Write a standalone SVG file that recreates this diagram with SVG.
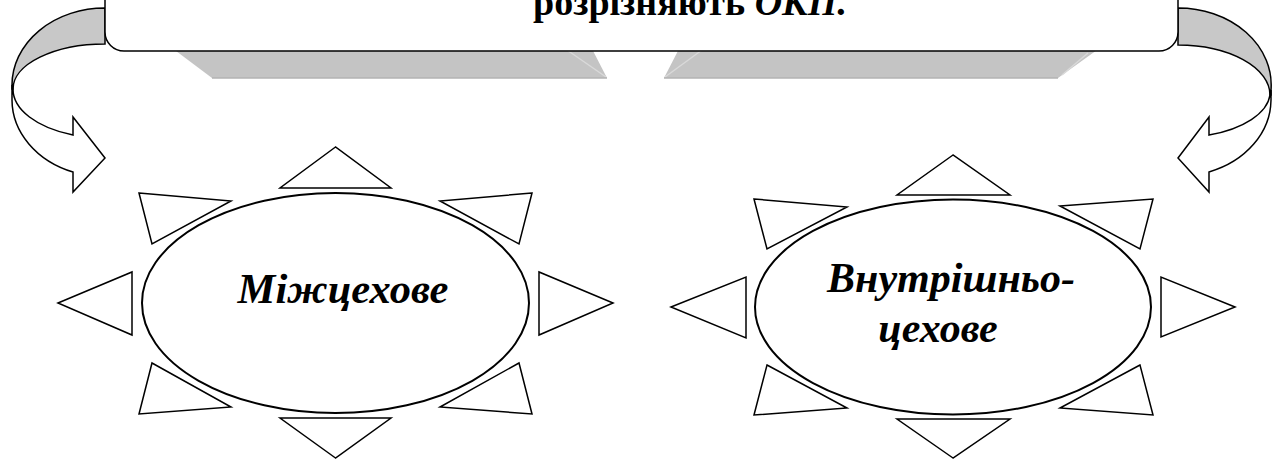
<svg xmlns="http://www.w3.org/2000/svg" width="1279" height="460" viewBox="0 0 1279 460">
<defs>
<style>
.ln{fill:#fff;stroke:#000;stroke-width:1.5;stroke-linejoin:miter}
.back{fill:#c8c8c8;stroke:#000;stroke-width:1.5}
.shd{fill:#c4c4c4;stroke:none}
.hl{stroke:#d9d9d9;stroke-width:1.5;fill:none}
.bt{stroke:#b3b3b3;stroke-width:1.5;fill:none}
.el{fill:#fff;stroke:#000;stroke-width:2}
.t{font-family:"Liberation Serif","Times New Roman",serif;font-weight:bold;fill:#000}
.it{font-style:italic}
</style>
</defs>
<rect width="1279" height="460" fill="#fff"/>
<g id="connectors">
  <g id="arrow-left">
    <path class="back" d="M105,8 A93,77 0 0 0 12,85 L12,89 L13,89 A92,45 0 0 1 105,44 Z"/>
    <path class="ln" d="M12,85 L12,100 A93,77 0 0 0 73,172 L73,192 L105,158 L73,117 L73,135 A92,49 0 0 1 13,89 Z"/>
  </g>
  <g id="arrow-right">
    <path class="back" d="M1178,8 A93,77 0 0 1 1271,90 L1271,95 L1270,95 A92,50 0 0 0 1178,45 Z"/>
    <path class="ln" d="M1271,90 L1271,100 A93,77 0 0 1 1209,172 L1209,192 L1178,158 L1209,117 L1209,135 A92,46 0 0 0 1270,95 Z"/>
  </g>
</g>
<g id="header">
  <polygon class="shd" points="168,45 590,45 607,78 212,78"/>
  <line class="hl" x1="567" y1="50" x2="606" y2="77"/>
  <line class="bt" x1="212" y1="78" x2="607" y2="78"/>
  <polygon class="shd" points="681,45 1104,45 1058,78 664,78"/>
  <line class="hl" x1="702" y1="50" x2="665" y2="77"/>
  <line class="hl" x1="1088" y1="53" x2="1062" y2="75"/>
  <line class="bt" x1="664" y1="78" x2="1058" y2="78"/>
  <rect class="ln" x="105" y="-40" width="1073" height="91" rx="19" ry="19"/>
  <text class="t" x="533" y="15" font-size="38">розрізняють <tspan class="it">ОКП.</tspan></text>
</g>
<g id="node-mizhtsekhove" transform="translate(335.5,303)">
  <polygon class="ln" points="0,-156 -55.5,-115 55.5,-115"/>
  <polygon class="ln" points="0,155 -55.5,115 55.5,115"/>
  <polygon class="ln" points="-277.5,0 -203.5,-31 -203.5,32"/>
  <polygon class="ln" points="277.5,0 203.5,-31 203.5,32"/>
  <polygon class="ln" points="-196.5,-110 -104.5,-102 -183.5,-59"/>
  <polygon class="ln" points="-183.5,60 -104.5,104 -196.5,111"/>
  <polygon class="ln" points="196.5,-110 104.5,-102 183.5,-59"/>
  <polygon class="ln" points="183.5,60 104.5,104 196.5,111"/>
  <ellipse class="el" cx="0" cy="0" rx="193.5" ry="110"/>
  <text class="t it" x="7.5" y="0" font-size="42.5" text-anchor="middle">Міжцехове</text>
</g>
<g id="node-vnutrishnotsekhove" transform="translate(953,307)">
  <polygon class="ln" points="0,-152 -56,-112 57,-112"/>
  <polygon class="ln" points="0,151 -56,112 57,112"/>
  <polygon class="ln" points="-282,0 -207,-30 -207,31"/>
  <polygon class="ln" points="282,0 208,-30 208,30"/>
  <polygon class="ln" points="-199,-108 -106,-100 -186,-58"/>
  <polygon class="ln" points="-186,58 -106,101 -199,108"/>
  <polygon class="ln" points="107,-101 200,-108 187,-58"/>
  <polygon class="ln" points="187,58 107,101 200,108"/>
  <ellipse class="el" cx="0" cy="0" rx="198" ry="107.5"/>
  <text class="t it" x="-2" y="-15" font-size="42" text-anchor="middle">Внутрішньо-</text>
  <text class="t it" x="-15" y="35" font-size="42" text-anchor="middle">цехове</text>
</g>
</svg>
